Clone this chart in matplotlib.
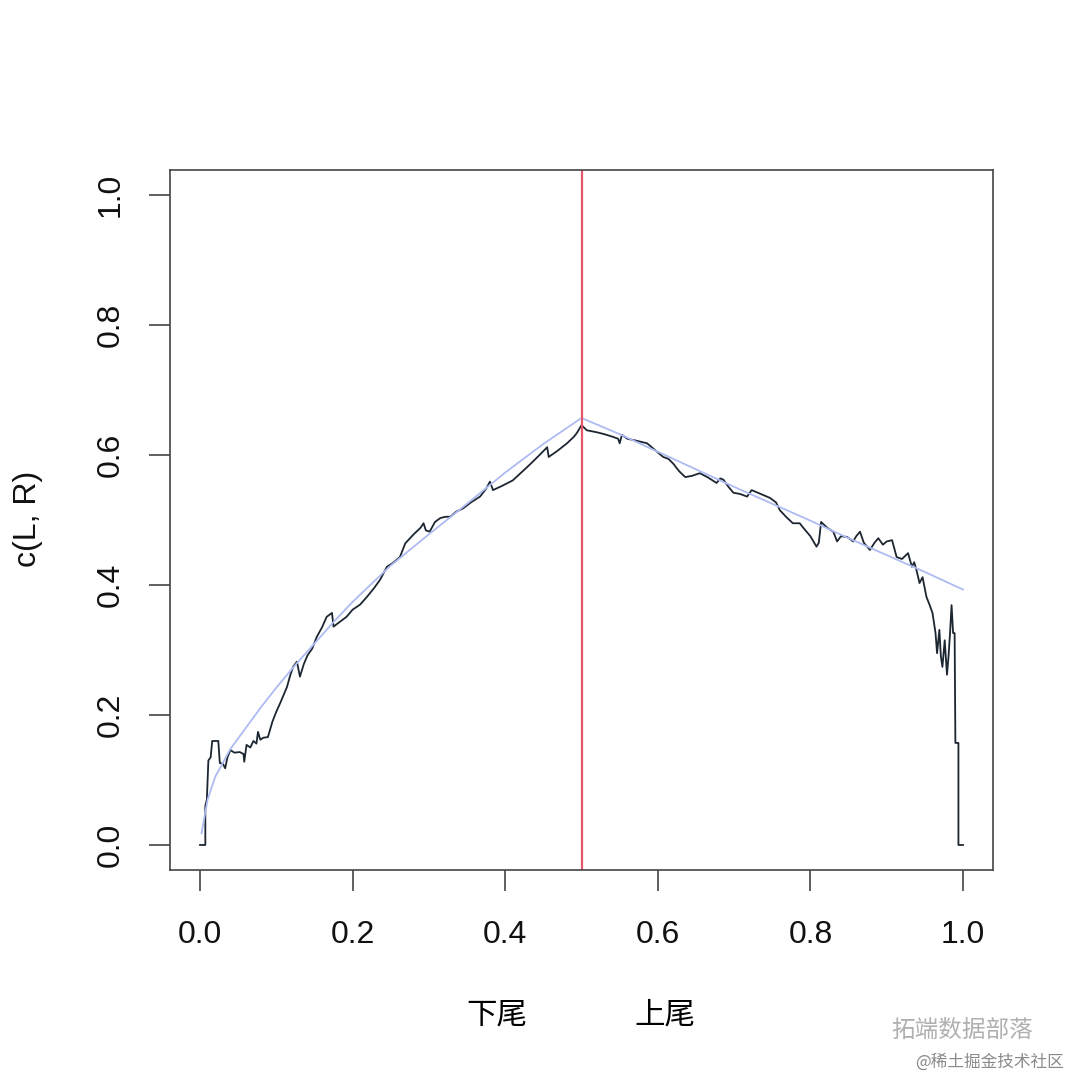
import matplotlib
matplotlib.use("Agg")
import matplotlib.pyplot as plt

# empirical tail concentration (black step line)
tail_x = [0.000, 0.007, 0.007, 0.009, 0.011, 0.014, 0.016, 0.024, 0.026, 0.030,
          0.033, 0.036, 0.040, 0.045, 0.052, 0.057, 0.058, 0.061, 0.066, 0.070,
          0.074, 0.076, 0.079, 0.083, 0.089, 0.095, 0.100, 0.105, 0.110, 0.114,
          0.118, 0.122, 0.127, 0.131, 0.136, 0.141, 0.147, 0.153, 0.160, 0.166,
          0.173, 0.175, 0.183, 0.192, 0.200, 0.210, 0.219, 0.228, 0.236, 0.245,
          0.253, 0.262, 0.269, 0.280, 0.289, 0.293, 0.296, 0.301, 0.308, 0.315,
          0.322, 0.328, 0.336, 0.345, 0.355, 0.367, 0.375, 0.380, 0.384, 0.395,
          0.410, 0.420, 0.432, 0.445, 0.455, 0.457, 0.468, 0.481, 0.490, 0.494,
          0.500, 0.507, 0.520, 0.530, 0.541, 0.548, 0.550, 0.553, 0.560, 0.572,
          0.586, 0.596, 0.607, 0.614, 0.620, 0.628, 0.636, 0.645, 0.655, 0.665,
          0.677, 0.682, 0.686, 0.692, 0.699, 0.708, 0.717, 0.723, 0.735, 0.747,
          0.755, 0.760, 0.768, 0.777, 0.786, 0.790, 0.800, 0.808, 0.811, 0.814,
          0.822, 0.830, 0.835, 0.840, 0.848, 0.856, 0.860, 0.865, 0.870, 0.878,
          0.884, 0.889, 0.895, 0.900, 0.907, 0.913, 0.920, 0.928, 0.933, 0.936,
          0.939, 0.943, 0.947, 0.952, 0.956, 0.960, 0.964, 0.966, 0.969, 0.971,
          0.973, 0.976, 0.978, 0.979, 0.981, 0.983, 0.985, 0.987, 0.989, 0.990,
          0.994, 0.994, 1.000]
tail_y = [0.000, 0.000, 0.060, 0.070, 0.130, 0.135, 0.160, 0.160, 0.126, 0.125,
          0.118, 0.135, 0.146, 0.142, 0.143, 0.140, 0.128, 0.154, 0.150, 0.160,
          0.156, 0.174, 0.162, 0.165, 0.166, 0.190, 0.205, 0.218, 0.232, 0.243,
          0.260, 0.274, 0.282, 0.259, 0.278, 0.292, 0.302, 0.320, 0.335, 0.351,
          0.357, 0.336, 0.343, 0.351, 0.362, 0.370, 0.382, 0.395, 0.408, 0.428,
          0.434, 0.443, 0.464, 0.478, 0.488, 0.495, 0.484, 0.482, 0.497, 0.503,
          0.505, 0.505, 0.513, 0.518, 0.527, 0.536, 0.548, 0.559, 0.546, 0.552,
          0.561, 0.572, 0.585, 0.600, 0.612, 0.597, 0.606, 0.618, 0.628, 0.634,
          0.646, 0.638, 0.635, 0.632, 0.628, 0.625, 0.618, 0.631, 0.625, 0.622,
          0.618, 0.608, 0.597, 0.594, 0.587, 0.575, 0.566, 0.568, 0.572, 0.566,
          0.557, 0.564, 0.562, 0.552, 0.542, 0.540, 0.536, 0.546, 0.540, 0.534,
          0.527, 0.515, 0.505, 0.495, 0.495, 0.489, 0.475, 0.459, 0.465, 0.497,
          0.488, 0.482, 0.467, 0.475, 0.474, 0.467, 0.475, 0.482, 0.465, 0.454,
          0.465, 0.472, 0.462, 0.467, 0.469, 0.443, 0.440, 0.449, 0.428, 0.435,
          0.423, 0.403, 0.412, 0.382, 0.370, 0.357, 0.326, 0.295, 0.331, 0.290,
          0.274, 0.315, 0.280, 0.262, 0.290, 0.326, 0.369, 0.326, 0.326, 0.157,
          0.157, 0.000, 0.000]

# fitted copula curve (light blue)
fit_x = [0.002, 0.010, 0.020, 0.040, 0.060, 0.080, 0.100, 0.125, 0.150, 0.175,
         0.200, 0.250, 0.300, 0.350, 0.400, 0.450, 0.500, 0.550, 0.600, 0.650,
         0.700, 0.750, 0.800, 0.850, 0.900, 0.950, 1.000]
fit_y = [0.018, 0.070, 0.105, 0.148, 0.180, 0.212, 0.242, 0.277, 0.310, 0.343,
         0.374, 0.430, 0.478, 0.525, 0.573, 0.617, 0.657, 0.632, 0.605, 0.578,
         0.551, 0.525, 0.499, 0.472, 0.446, 0.420, 0.393]

split_at = 0.5
ticks = [0.0, 0.2, 0.4, 0.6, 0.8, 1.0]
tick_labels = ["0.0", "0.2", "0.4", "0.6", "0.8", "1.0"]

plt.rcParams['font.family'] = ['Liberation Sans', 'Noto Sans CJK SC', 'DejaVu Sans']

fig = plt.figure(figsize=(10.8, 10.8), dpi=100)
ax = fig.add_axes([170 / 1080, 1 - 870 / 1080, 823 / 1080, 700 / 1080])

ax.plot(tail_x, tail_y, color='#1c2631', lw=1.3)
ax.plot(fit_x, fit_y, color='#aebbf2', lw=1.3)
ax.axvline(split_at, color='#e5576a', lw=1.6)

ax.set_xlim(-0.0393, 1.0393)
ax.set_ylim(-0.0385, 1.0385)
ax.set_xticks(ticks)
ax.set_xticklabels(tick_labels)
ax.set_yticks(ticks)
ax.set_yticklabels(tick_labels, rotation=90, va='center')
ax.tick_params(axis='both', length=15, width=1.2, color='#444444',
               labelsize=23, labelcolor='#111111')
ax.tick_params(axis='x', pad=21)
ax.tick_params(axis='y', pad=17)
for s in ax.spines.values():
    s.set_color('#444444')
    s.set_linewidth(1.2)

fig.text(28 / 1080, 1 - 519 / 1080, "c(L, R)", rotation=90, fontsize=23,
         ha='center', va='center', color='#111111')
fig.text(497 / 1080, 1 - 1015 / 1080, "下尾", fontsize=22,
         ha='center', va='center', family=['Noto Sans CJK SC'])
fig.text(665 / 1080, 1 - 1015 / 1080, "上尾", fontsize=22,
         ha='center', va='center', family=['Noto Sans CJK SC'])

# watermark text from the source image
fig.text(962 / 1080, 1 - 1030 / 1080, "拓端数据部落", fontsize=17, color='#b0b0b0',
         ha='center', va='center', family=['Noto Sans CJK SC'])
fig.text(990 / 1080, 1 - 1062 / 1080, "@稀土掘金技术社区", fontsize=12, color='#8a8a8a',
         ha='center', va='center', family=['Noto Sans CJK SC'])

fig.savefig("out.png", dpi=100, facecolor='white')
